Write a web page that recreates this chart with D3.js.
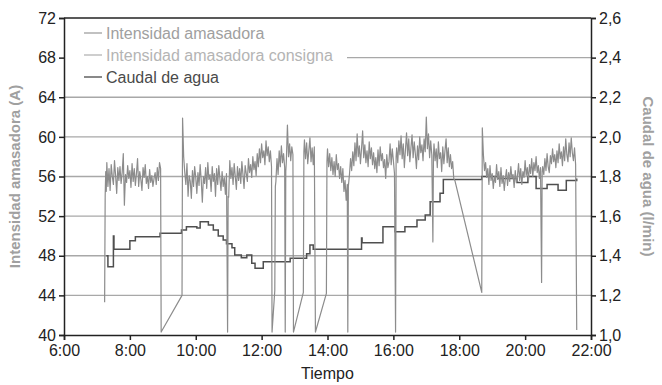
<!DOCTYPE html>
<html>
<head>
<meta charset="utf-8">
<script src="https://cdn.jsdelivr.net/npm/d3@7"></script>
<style>
  html, body { margin: 0; padding: 0; background: #fff; }
  svg { display: block; font-family: "Liberation Sans", Arial, sans-serif; }
</style>
</head>
<body>
<svg id="chart" width="662" height="385"></svg>
<script>
// ---- Axis ticks ----
const timeTicks = ["6:00", "8:00", "10:00", "12:00", "14:00", "16:00", "18:00", "20:00", "22:00"];
const intensidadTicks = [40, 44, 48, 52, 56, 60, 64, 68, 72];
const caudalTicks = [1.0, 1.2, 1.4, 1.6, 1.8, 2.0, 2.2, 2.4, 2.6];

// ---- Legend ----
const seriesNames = ["Intensidad amasadora", "Intensidad amasadora consigna", "Caudal de agua"];

// ---- Intensidad amasadora (A): runs sampled every 2 minutes from a start time ----
const run1 = ["7:18", [57.4, 55.0, 56.8, 54.6, 57.2, 56.0, 55.2, 57.6, 56.1, 54.3, 56.9, 55.6, 57.0, 55.3, 56.4, 58.3, 53.1, 56.2, 55.4, 57.1, 55.8, 56.6, 54.9, 57.3, 55.5, 56.8, 55.1, 56.3, 57.8, 55.0, 56.5, 55.7, 54.6, 56.9, 55.9, 57.2, 55.3, 56.0, 54.8, 56.7, 55.4, 56.1, 55.0, 55.8, 56.4, 55.2, 56.9, 55.6, 57.4, 56.8]];
const run2 = ["9:38", [58.0, 56.4, 55.2, 57.3, 54.0, 56.1, 55.5, 53.8, 56.6, 55.0, 57.0, 55.9, 54.3, 56.4, 55.1, 57.2, 55.6, 53.4, 56.0, 55.3, 56.9, 54.8, 57.4, 55.7, 56.2, 54.5, 57.0, 55.5, 56.3, 54.0, 56.8, 55.2, 57.1, 55.8, 54.6, 56.5, 55.0, 55.9, 54.2, 56.3]];
const run3 = ["11:00", [53.9, 57.6, 55.8, 56.9, 55.2, 57.3, 56.0, 54.7, 57.0, 55.6, 56.8, 55.3, 57.5, 56.2, 54.8, 57.1, 56.3, 55.5, 57.8, 56.4, 57.2, 55.9, 58.0, 56.7, 57.5, 56.1, 58.3, 57.0, 58.8, 57.4, 59.3, 57.9, 58.6, 57.2, 59.6, 58.1, 59.0, 57.5, 58.6, 57.0]];
const run4 = ["12:26", [55.5, 57.8, 56.2, 58.6, 57.0, 59.1, 57.4, 58.3, 56.9]];
const run5 = ["12:45", [57.5, 61.2, 58.0, 59.3, 57.6, 59.0, 58.2]];
const run6 = ["13:18", [59.7, 57.8, 59.4, 57.3, 58.6, 59.9, 57.5, 58.9, 57.2, 59.0]];
const run7 = ["14:00", [58.8, 57.0, 58.3, 56.6, 57.9, 56.2, 57.5, 56.0, 58.2, 56.7, 57.3, 55.8, 57.0, 55.4, 56.8, 54.5, 55.6, 53.6, 55.2]];
const run8 = ["14:40", [56.2, 57.8, 56.6, 58.5, 57.1, 59.4, 57.6, 60.3, 58.0, 59.1, 57.3, 58.8, 60.6, 57.9, 59.2, 57.4, 58.6, 57.0, 59.5, 57.8, 58.9, 57.2, 58.4, 56.8, 57.9, 56.4, 58.7, 57.1, 59.0, 57.6, 58.3, 56.9, 57.7, 55.8, 58.2, 56.9, 57.5, 59.3, 57.2, 58.8, 57.6, 56.3]];
const run9 = ["16:06", [58.9, 57.4, 59.6, 58.2, 60.1, 57.8, 59.3, 56.9, 58.7, 60.4, 58.1, 59.8, 57.5, 58.9, 60.2, 57.9, 59.5, 58.3, 56.8, 59.1, 57.7, 60.0, 58.4, 59.2, 57.6, 59.8, 58.5, 62.0, 58.8, 60.3, 57.9, 59.6, 58.2]];
const run10 = ["17:14", [59.3, 57.6, 58.8, 56.9, 59.5, 57.8, 58.4, 56.5, 59.0, 57.3, 58.6, 59.8, 57.4, 58.9, 57.0, 58.2, 56.8, 57.5, 55.8]];
const run11 = ["18:44", [58.2, 56.6, 57.4, 55.9, 56.8, 55.2, 57.1, 55.6, 56.3, 54.8, 56.0, 55.4, 57.2, 55.7, 56.5, 55.0, 56.9, 55.3, 56.1, 54.6, 55.8, 56.7, 55.1, 56.4, 55.5, 57.0, 55.8, 56.2, 54.9, 56.6, 55.4, 56.0, 57.3, 55.6, 56.8, 55.2, 56.5, 55.9, 57.6, 56.1, 56.9, 55.5, 57.2, 56.3, 57.8, 56.0, 57.4, 56.6, 58.0, 56.4, 57.1, 55.8, 56.9]];
const run12 = ["20:32", [57.0, 56.2, 57.8, 56.6, 58.3, 57.0, 56.4, 58.1, 57.3, 58.8, 57.5, 58.2, 56.9, 58.6, 57.4, 59.3, 57.8, 58.5, 57.1, 59.0, 57.6, 59.8, 58.2, 57.5, 59.4, 58.0, 59.9, 58.4, 57.6, 58.9, 57.2]];

// Single readings between runs: stoppages, ramps and restarts
const edges1 = [["7:14", 43.3], ["7:15", 54.0], ["7:16", 56.5], ["7:17", 54.5]];
const edges2 = [["8:57", 40.3], ["9:35", 44.0], ["9:36", 61.9]];
const edges3 = [["10:58", 40.3], ["10:59", 54.0]];
const edges4 = [["12:19", 40.3], ["12:24", 44.5], ["12:25", 55.0]];
const edges5 = [["12:43", 40.3], ["12:44", 56.5]];
const edges6 = [["12:58", 40.3], ["13:16", 44.3], ["13:17", 58.5]];
const edges7 = [["13:38", 40.3], ["13:58", 44.2], ["13:59", 57.5]];
const edges8 = [["14:37", 40.3], ["14:38", 55.0]];
const edges9 = [["16:04", 40.3], ["16:05", 58.0]];
const edges10 = [["17:12", 49.4], ["17:13", 58.0]];
const edges11 = [["17:52", 55.6], ["18:41", 44.3], ["18:42", 60.9]];
const edges12 = [["20:30", 45.3], ["20:31", 56.5]];
const edges13 = [["21:34", 40.5]];

// ---- Caudal de agua (l/min): step changes [time, value] ----
const caudal = [
  ["7:17", 1.40], ["7:20", 1.345], ["7:30", 1.50], ["7:31", 1.433], ["8:00", 1.476], ["8:10", 1.496],
  ["8:55", 1.513], ["9:34", 1.53], ["9:43", 1.547], ["10:02", 1.54], ["10:08", 1.572], ["10:23", 1.555],
  ["10:32", 1.53], ["10:41", 1.50], ["10:50", 1.48], ["10:56", 1.46], ["11:06", 1.44], ["11:11", 1.404],
  ["11:23", 1.39], ["11:33", 1.404], ["11:42", 1.362], ["11:48", 1.337], ["12:03", 1.37], ["12:52", 1.387],
  ["13:22", 1.41], ["13:28", 1.454], ["13:34", 1.433], ["15:02", 1.49], ["15:03", 1.466], ["15:41", 1.547],
  ["16:03", 1.521], ["16:21", 1.547], ["16:43", 1.58], ["16:58", 1.606], ["17:07", 1.673], ["17:25", 1.715],
  ["17:31", 1.785], ["18:41", 1.80], ["19:10", 1.79], ["19:45", 1.77], ["20:05", 1.80], ["20:20", 1.74],
  ["20:40", 1.76], ["21:00", 1.73], ["21:15", 1.78], ["21:34", 1.79]
];

// ---- Helpers ----
const toHours = s => { const [h, m] = s.split(":").map(Number); return h + m / 60; };
const expandRun = ([start, vals]) => vals.map((v, i) => [toHours(start) + (i * 2) / 60, v]);
const pts = arr => arr.map(([t, v]) => [toHours(t), v]);

const intensidad = [].concat(
  pts(edges1), expandRun(run1), pts(edges2), expandRun(run2), pts(edges3), expandRun(run3),
  pts(edges4), expandRun(run4), pts(edges5), expandRun(run5), pts(edges6), expandRun(run6),
  pts(edges7), expandRun(run7), pts(edges8), expandRun(run8), pts(edges9), expandRun(run9),
  pts(edges10), expandRun(run10), pts(edges11), expandRun(run11), pts(edges12), expandRun(run12),
  pts(edges13)
).sort((a, b) => a[0] - b[0]);
const caudalPts = pts(caudal);

// ---- Layout ----
const margin = { left: 64, right: 71, top: 18, bottom: 50 };
const W = 662, H = 385;
const FONT = 16;
const svg = d3.select("#chart");

const x = d3.scaleLinear().domain([6, 22]).range([margin.left, W - margin.right]);
const yL = d3.scaleLinear().domain([40, 72]).range([H - margin.bottom, margin.top]);
const yR = d3.scaleLinear().domain([1.0, 2.6]).range([H - margin.bottom, margin.top]);

// Gridlines
svg.append("g").selectAll("line").data(intensidadTicks.slice(1, -1)).join("line")
  .attr("x1", x(6)).attr("x2", x(22))
  .attr("y1", d => yL(d)).attr("y2", d => yL(d))
  .attr("stroke", "#a8a8a8").attr("stroke-width", 1.3);

// Series
const lineI = d3.line().x(d => x(d[0])).y(d => yL(d[1]));
const lineC = d3.line().curve(d3.curveStepAfter).x(d => x(d[0])).y(d => yR(d[1]));

svg.append("path").datum(caudalPts).attr("d", lineC)
  .attr("fill", "none").attr("stroke", "#4f4f4f").attr("stroke-width", 1.5);
svg.append("path").datum(intensidad).attr("d", lineI)
  .attr("fill", "none").attr("stroke", "#8c8c8c").attr("stroke-width", 1.2).attr("stroke-linejoin", "round");

// Legend (white box over gridlines)
const legendColors = ["#a0a0a0", "#b4b4b4", "#4a4a4a"];
const legendRows = [33, 55, 77];
const lg = svg.append("g");
lg.append("rect").attr("x", x(6) + 1).attr("y", margin.top + 2).attr("width", 282).attr("height", 70).attr("fill", "#fff");
seriesNames.forEach((name, i) => {
  const yy = legendRows[i];
  lg.append("line").attr("x1", 84).attr("x2", 102).attr("y1", yy).attr("y2", yy)
    .attr("stroke", legendColors[i]).attr("stroke-width", 1.3);
  lg.append("text").attr("x", 106).attr("y", yy).attr("dy", "0.35em")
    .attr("font-size", FONT).attr("fill", legendColors[i]).text(name);
});

// Axes
const axisStyle = g => {
  g.select(".domain").attr("stroke", "#222").attr("stroke-width", 1.5);
  g.selectAll(".tick line").attr("stroke", "#222").attr("stroke-width", 1.5);
  g.selectAll(".tick text").attr("fill", "#222").attr("font-size", FONT).attr("font-family", "Liberation Sans, Arial, sans-serif");
};
svg.append("g").attr("transform", `translate(0,${H - margin.bottom})`)
  .call(d3.axisBottom(x).tickValues(timeTicks.map(toHours)).tickFormat((d, i) => timeTicks[i]).tickSizeOuter(0).tickSize(5).tickPadding(5))
  .call(axisStyle);
svg.append("g").attr("transform", `translate(${margin.left},0)`)
  .call(d3.axisLeft(yL).tickValues(intensidadTicks).tickFormat(d3.format("d")).tickSizeOuter(0).tickSize(5).tickPadding(3))
  .call(axisStyle);
svg.append("g").attr("transform", `translate(${W - margin.right},0)`)
  .call(d3.axisRight(yR).tickValues(caudalTicks).tickFormat(d => d.toFixed(1).replace(".", ",")).tickSizeOuter(0).tickSize(5).tickPadding(3))
  .call(axisStyle);
// Top border
svg.append("line").attr("x1", x(6)).attr("x2", x(22)).attr("y1", yL(72)).attr("y2", yL(72))
  .attr("stroke", "#222").attr("stroke-width", 1.5);

// Axis titles
svg.append("text").attr("x", (x(6) + x(22)) / 2).attr("y", H - 6).attr("text-anchor", "middle")
  .attr("font-size", FONT).attr("fill", "#222").text("Tiempo");
svg.append("text").attr("transform", `translate(20,${(margin.top + H - margin.bottom) / 2}) rotate(-90)`)
  .attr("text-anchor", "middle").attr("font-size", 15).attr("font-weight", "bold").attr("fill", "#a0a0a0")
  .text("Intensidad amasadora (A)");
svg.append("text").attr("transform", `translate(643,${(margin.top + H - margin.bottom) / 2}) rotate(90)`)
  .attr("text-anchor", "middle").attr("font-size", 15).attr("font-weight", "bold").attr("fill", "#a0a0a0")
  .text("Caudal de agua (l/min)");
</script>
</body>
</html>
